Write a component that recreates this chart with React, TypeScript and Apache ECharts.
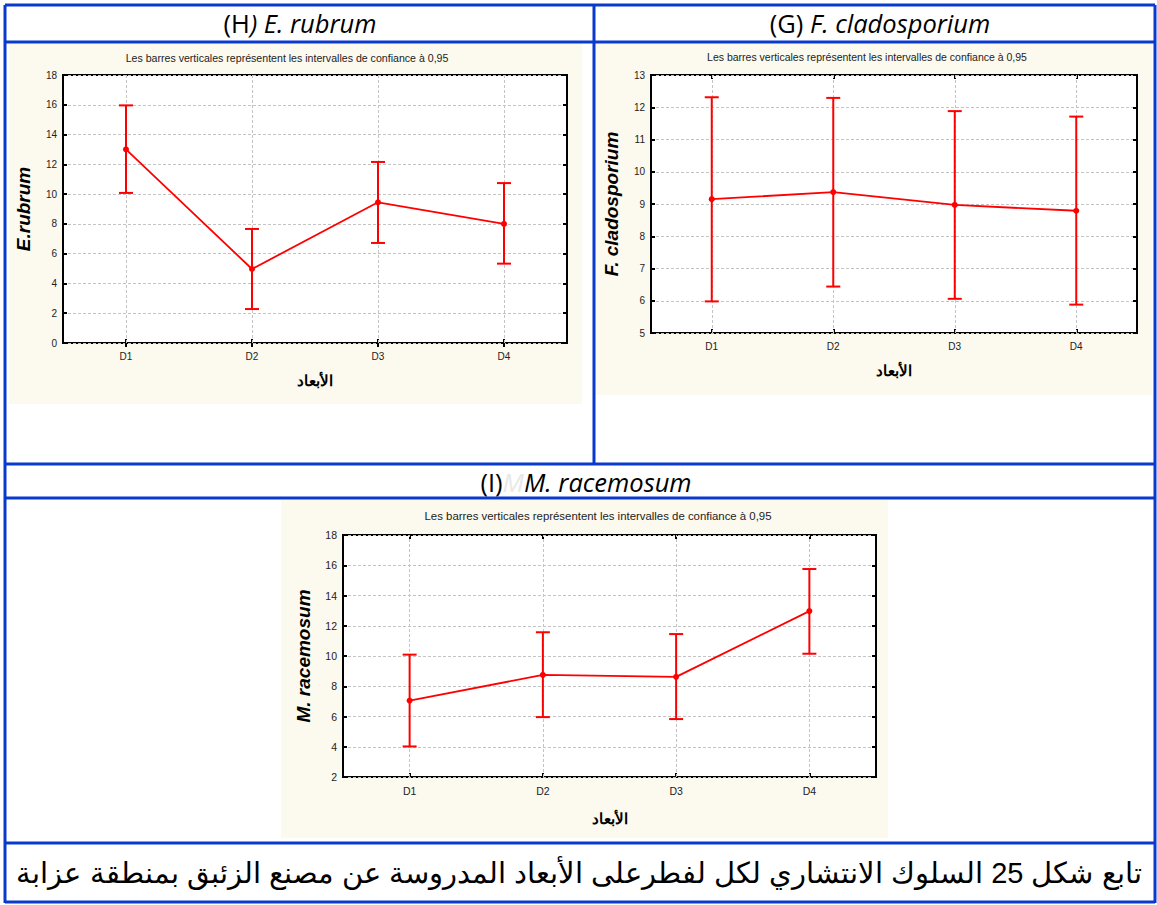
import React, { useEffect, useRef } from 'react';
import * as echarts from 'echarts';

const categories = ['D1', 'D2', 'D3', 'D4'];

// (H) E. rubrum
const rubrumMean = [13.0, 4.97, 9.45, 8.0];
const rubrumLow = [10.08, 2.28, 6.72, 5.33];
const rubrumHigh = [15.96, 7.66, 12.16, 10.74];
const rubrumAxis = [0, 18, 2];

// (G) F. cladosporium
const cladoMean = [9.15, 9.37, 8.97, 8.79];
const cladoLow = [5.98, 6.44, 6.06, 5.88];
const cladoHigh = [12.31, 12.29, 11.88, 11.71];
const cladoAxis = [5, 13, 1];

// (I) M. racemosum
const racemMean = [7.05, 8.75, 8.62, 12.97];
const racemLow = [4.02, 5.96, 5.83, 10.15];
const racemHigh = [10.09, 11.57, 11.45, 15.75];
const racemAxis = [2, 18, 2];

const subTitle = 'Les barres verticales représentent les intervalles de confiance à 0,95';
const xName = 'الأبعاد';
const caption = 'تابع شكل 25 السلوك الانتشاري لكل لفطرعلى الأبعاد المدروسة عن مصنع الزئبق بمنطقة عزابة';

const RED = '#ff0000';
const GRIDC = '#c4c4c4';
const BLUE = '#0a3acd';
const CREAM = '#fcf9ef';
const SANS = '"Liberation Sans", Arial, sans-serif';

type PanelDef = {
  grid: { left: number; top: number; width: number; height: number };
  mean: number[];
  low: number[];
  high: number[];
  axis: number[];
  yName: string;
  tickFont: number;
  xNameGap: number;
};

const panels: PanelDef[] = [
  { grid: { left: 63, top: 75, width: 504, height: 268 }, mean: rubrumMean, low: rubrumLow, high: rubrumHigh, axis: rubrumAxis, yName: 'E.rubrum', tickFont: 10, xNameGap: 30 },
  { grid: { left: 651, top: 75, width: 486, height: 258 }, mean: cladoMean, low: cladoLow, high: cladoHigh, axis: cladoAxis, yName: 'F. cladosporium', tickFont: 10, xNameGap: 30 },
  { grid: { left: 343, top: 535, width: 533, height: 242 }, mean: racemMean, low: racemLow, high: racemHigh, axis: racemAxis, yName: 'M. racemosum', tickFont: 10.5, xNameGap: 34 },
];

function buildOption() {
  const grid: any[] = [];
  const xAxis: any[] = [];
  const yAxis: any[] = [];
  const series: any[] = [];

  panels.forEach((p, i) => {
    grid.push({
      ...p.grid,
      show: true,
      backgroundColor: '#ffffff',
      borderColor: '#000000',
      borderWidth: 2,
    });
    const tick = { show: true, inside: true, length: 4, lineStyle: { color: '#000', width: 2 } };
    xAxis.push({
      type: 'category',
      gridIndex: i,
      data: categories,
      position: 'bottom',
      boundaryGap: true,
      axisLine: { show: false },
      axisTick: { ...tick, alignWithLabel: true },
      axisLabel: { margin: 8, fontSize: p.tickFont, color: '#222', fontFamily: SANS },
      splitLine: { show: false },
      name: xName,
      nameLocation: 'middle',
      nameGap: p.xNameGap,
      nameTextStyle: { fontWeight: 'bold', fontSize: 15, color: '#000', fontFamily: SANS },
    });
    xAxis.push({
      type: 'category',
      gridIndex: i,
      data: categories,
      position: 'top',
      boundaryGap: true,
      axisLine: { show: false },
      axisTick: { ...tick, alignWithLabel: true },
      axisLabel: { show: false },
      splitLine: { show: false },
    });
    yAxis.push({
      type: 'value',
      gridIndex: i,
      min: p.axis[0],
      max: p.axis[1],
      interval: p.axis[2],
      position: 'left',
      axisLine: { show: false },
      axisTick: tick,
      axisLabel: { margin: 6, fontSize: p.tickFont, color: '#222', fontFamily: SANS },
      splitLine: { show: true, lineStyle: { color: GRIDC, type: [3, 2], width: 1 } },
      name: p.yName,
      nameLocation: 'middle',
      nameGap: 30,
      nameRotate: 90,
      nameTextStyle: { fontWeight: 'bold', fontStyle: 'italic', fontSize: 19, color: '#000', fontFamily: SANS },
    });
    yAxis.push({
      type: 'value',
      gridIndex: i,
      min: p.axis[0],
      max: p.axis[1],
      interval: p.axis[2],
      position: 'right',
      axisLine: { show: false },
      axisTick: tick,
      axisLabel: { show: false },
      splitLine: { show: false },
    });

    series.push({
      type: 'line',
      xAxisIndex: i * 2,
      yAxisIndex: i * 2,
      data: p.mean,
      symbol: 'circle',
      symbolSize: 6,
      itemStyle: { color: RED },
      lineStyle: { color: RED, width: 1.8 },
      z: 4,
      markLine: {
        silent: true,
        symbol: ['none', 'none'],
        z: 1,
        label: { show: false },
        lineStyle: { color: GRIDC, type: [3, 2], width: 1 },
        data: categories.map((c) => ({ xAxis: c })),
      },
    });
    series.push({
      type: 'custom',
      xAxisIndex: i * 2,
      yAxisIndex: i * 2,
      data: categories.map((_, k) => [k, p.low[k], p.high[k]]),
      encode: { x: 0, y: [1, 2] },
      z: 3,
      renderItem: (params: any, api: any) => {
        const x = api.value(0);
        const lo = api.coord([x, api.value(1)]);
        const hi = api.coord([x, api.value(2)]);
        const cap = 7;
        const style = { stroke: RED, lineWidth: 2 };
        return {
          type: 'group',
          children: [
            { type: 'line', shape: { x1: lo[0], y1: lo[1], x2: hi[0], y2: hi[1] }, style },
            { type: 'line', shape: { x1: lo[0] - cap, y1: lo[1], x2: lo[0] + cap, y2: lo[1] }, style },
            { type: 'line', shape: { x1: hi[0] - cap, y1: hi[1], x2: hi[0] + cap, y2: hi[1] }, style },
          ],
        };
      },
    });
  });

  const line = (x1: number, y1: number, x2: number, y2: number) => ({
    type: 'line',
    z: 10,
    shape: { x1, y1, x2, y2 },
    style: { stroke: BLUE, lineWidth: 3 },
  });

  const TF = '"Open Sans", sans-serif';
  const TS = 25.5;
  const titleRich = {
    n: { fontFamily: TF, fontSize: TS, fill: '#000' },
    i: { fontFamily: TF, fontSize: TS, fill: '#000', fontStyle: 'italic' },
    g: { fontFamily: TF, fontSize: TS, fill: '#e8e8e8', fontStyle: 'italic' },
  };

  const graphic: any[] = [
    { type: 'rect', z: -10, shape: { x: 9, y: 43, width: 573, height: 361 }, style: { fill: CREAM } },
    { type: 'rect', z: -10, shape: { x: 595, y: 43, width: 557, height: 352 }, style: { fill: CREAM } },
    { type: 'rect', z: -10, shape: { x: 281, y: 500, width: 607, height: 338 }, style: { fill: CREAM } },
    line(5, 5, 1155, 5),
    line(5, 5, 5, 903),
    line(1155, 5, 1155, 903),
    line(5, 42, 1155, 42),
    line(594, 5, 594, 464),
    line(5, 464, 1155, 464),
    line(5, 498, 1155, 498),
    line(5, 843, 1155, 843),
    line(5, 902, 1155, 902),
    { type: 'text', x: 300, y: 23, style: { text: '{n|(H}{i|) E. rubrum}', rich: titleRich, align: 'center', verticalAlign: 'middle' } },
    { type: 'text', x: 880, y: 23, style: { text: '{n|(G) }{i|F. cladosporium}', rich: titleRich, align: 'center', verticalAlign: 'middle' } },
    { type: 'text', x: 586, y: 482, style: { text: '{n|(I)}{g|M}{i|M. racemosum}', rich: titleRich, align: 'center', verticalAlign: 'middle' } },
    { type: 'text', x: 287, y: 58, style: { text: subTitle, fontSize: 10.6, fontFamily: SANS, fill: '#222', align: 'center', verticalAlign: 'middle' } },
    { type: 'text', x: 867, y: 57, style: { text: subTitle, fontSize: 10.5, fontFamily: SANS, fill: '#222', align: 'center', verticalAlign: 'middle' } },
    { type: 'text', x: 598, y: 516, style: { text: subTitle, fontSize: 11.4, fontFamily: SANS, fill: '#222', align: 'center', verticalAlign: 'middle' } },
    { type: 'text', x: 579, y: 873, style: { text: '\u202B' + caption + '\u202C', fontSize: 29, fontFamily: SANS, fill: '#000', align: 'center', verticalAlign: 'middle' } },
  ];

  return {
    animation: false,
    backgroundColor: '#ffffff',
    grid,
    xAxis,
    yAxis,
    series,
    graphic,
  };
}

export default function App() {
  const ref = useRef<HTMLDivElement>(null);
  useEffect(() => {
    if (!ref.current) return;
    const chart = echarts.init(ref.current, undefined, { renderer: 'svg' });
    chart.setOption(buildOption() as any);
    return () => chart.dispose();
  }, []);
  return (
    <div
      ref={ref}
      style={{ position: 'absolute', left: 0, top: 0, width: 1157, height: 905, background: '#fff' }}
    />
  );
}
